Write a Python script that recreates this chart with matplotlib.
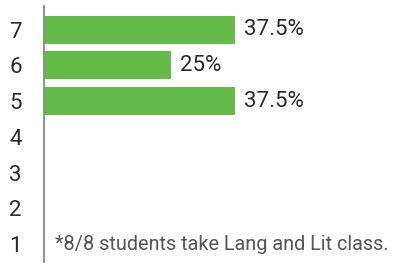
import matplotlib
matplotlib.use('Agg')
import matplotlib.pyplot as plt

# data
levels = [1, 2, 3, 4, 5, 6, 7]
percents = [0, 0, 0, 0, 37.5, 25, 37.5]
note = '*8/8 students take Lang and Lit class.'

GREEN = '#65bb48'
TEXT = '#2b2b2b'

plt.rcParams['font.family'] = ['Roboto', 'DejaVu Sans']

fig = plt.figure(figsize=(4.06, 2.66), dpi=100)
ax = fig.add_axes([44 / 406, 4 / 266, 360 / 406, 256 / 266])

ax.barh(levels, percents, height=0.78, color=GREEN)

for y, p in zip(levels, percents):
    if p > 0:
        ax.text(p + 1.7, y, '%g%%' % p, va='center', ha='left',
                fontsize=16, color=TEXT)

ax.text(2.2, levels[0], note, va='center', ha='left', fontsize=14.3,
        color='#555555')

ax.set_xlim(0, 70.7)
ax.set_ylim(0.5, 7.66)
ax.set_yticks(levels)
ax.set_yticklabels([str(l) for l in levels], fontsize=16, color=TEXT)
ax.tick_params(axis='y', length=0, pad=16)
ax.set_xticks([])
for name, sp in ax.spines.items():
    sp.set_visible(name == 'left')
ax.spines['left'].set_color('#8a8a8a')
ax.spines['left'].set_linewidth(1.3)

fig.savefig('out.png', dpi=100)
